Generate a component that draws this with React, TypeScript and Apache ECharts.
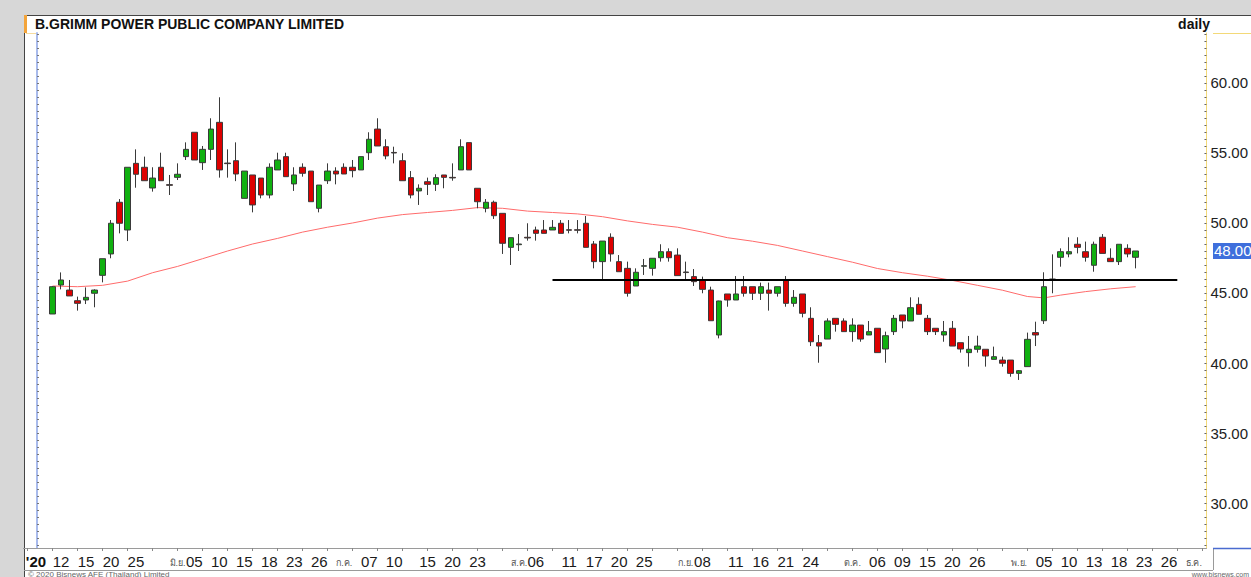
import React, { useEffect, useRef } from "react";
import * as echarts from "echarts";

// ---- DATA ----
const title = "B.GRIMM POWER PUBLIC COMPANY LIMITED";
const period = "daily";
const lastPrice = 48.0;
const supportLevel = 45.95;
const supportFrom = 60; // bar index
const supportTo = 135; // bar index

const open = [
  43.5, 45.57, 45.21, 44.45, 44.5, 44.98, 46.26, 47.79, 51.48, 49.5,
  54.26, 53.98, 52.5, 53.98, 52.74, 53.26, 54.74, 56.48, 54.31, 55.26,
  57.19, 54.28, 54.45, 51.76, 53.43, 53.21, 52.0, 53.79, 54.74, 52.79,
  53.98, 53.71, 51.05, 53.02, 53.71, 53.98, 53.98, 53.79, 55.02, 56.71,
  55.45, 55.04, 54.45, 53.24, 52.29, 52.95, 52.76, 53.43, 53.26, 53.79,
  55.74, 52.48, 51.05, 51.48, 50.69, 48.26, 48.45, 48.98, 49.5, 49.5,
  49.5, 49.98, 49.52, 49.52, 49.98, 48.5, 47.24, 48.98, 47.24, 46.76,
  45.5, 46.91, 46.76, 47.52, 47.95, 47.71, 46.5, 46.17, 45.93, 45.21,
  42.0, 44.93, 44.5, 45.45, 45.45, 44.98, 45.21, 44.98, 45.93, 44.26,
  44.93, 43.19, 41.45, 41.71, 43.19, 43.0, 42.24, 42.71, 42.0, 42.48,
  41.0, 42.24, 43.43, 43.0, 44.19, 43.19, 42.48, 42.0, 42.48, 41.45,
  40.74, 40.98, 40.98, 40.26, 40.21, 40.21, 39.26, 39.74, 42.17, 43.02,
  45.96, 47.55, 47.79, 48.48, 47.95, 46.98, 48.98, 47.48, 47.24, 48.19,
  47.55,
];
const high = [
  45.5, 46.47, 45.93, 44.74, 45.4, 45.26, 47.45, 50.21, 51.71, 53.98,
  55.26, 54.74, 53.98, 55.02, 53.43, 54.26, 55.76, 56.48, 55.5, 57.48,
  58.98, 55.26, 55.76, 53.71, 53.43, 53.21, 54.26, 55.02, 55.02, 53.98,
  54.26, 53.71, 52.71, 54.26, 53.98, 54.26, 54.5, 54.74, 56.48, 57.48,
  55.98, 55.45, 54.98, 53.71, 52.76, 53.24, 53.48, 53.43, 54.26, 55.98,
  55.74, 52.48, 51.71, 51.6, 50.69, 48.95, 49.21, 49.98, 49.74, 50.21,
  50.21, 50.21, 50.21, 50.21, 50.5, 48.71, 48.71, 49.26, 47.71, 47.24,
  46.76, 47.43, 47.48, 48.48, 48.19, 48.19, 47.24, 46.71, 46.17, 45.45,
  44.45, 44.93, 46.21, 46.21, 45.45, 45.74, 45.74, 45.45, 46.21, 45.21,
  44.93, 43.98, 42.0, 43.19, 43.19, 43.19, 43.19, 42.71, 43.0, 42.48,
  42.24, 43.43, 43.43, 44.69, 44.69, 43.43, 42.48, 43.0, 43.0, 41.45,
  41.93, 41.95, 40.98, 41.17, 40.45, 40.21, 39.5, 42.17, 42.95, 46.48,
  47.76, 48.19, 48.98, 48.98, 48.67, 48.67, 49.21, 48.19, 48.48, 48.48,
  48.0,
];
const low = [
  43.5, 45.26, 44.79, 43.74, 44.21, 43.98, 45.76, 47.48, 49.26, 48.71,
  52.52, 53.02, 52.24, 53.02, 52.0, 53.07, 54.5, 54.5, 53.79, 54.5,
  53.24, 53.24, 52.99, 51.76, 50.76, 51.76, 51.76, 53.79, 53.31, 52.29,
  53.31, 51.52, 50.76, 52.79, 52.76, 53.5, 53.26, 53.79, 54.5, 55.5,
  54.55, 54.26, 53.02, 51.76, 51.29, 52.0, 52.29, 52.48, 53.02, 53.79,
  53.79, 51.05, 50.76, 50.29, 47.79, 47.0, 48.0, 48.74, 48.74, 49.26,
  49.5, 49.26, 49.26, 49.26, 48.26, 46.76, 46.0, 47.24, 46.52, 44.74,
  45.5, 46.29, 46.24, 47.24, 47.24, 46.24, 46.0, 45.5, 44.98, 43.02,
  41.76, 44.02, 44.5, 44.74, 44.5, 44.5, 43.74, 44.74, 44.02, 44.02,
  43.26, 41.21, 40.02, 41.71, 42.24, 42.24, 41.52, 41.52, 42.0, 40.74,
  40.02, 42.0, 42.48, 43.0, 43.48, 42.0, 42.0, 41.52, 41.21, 40.74,
  39.74, 40.74, 39.74, 40.26, 39.74, 39.02, 38.79, 39.74, 41.21, 42.79,
  44.98, 46.88, 47.55, 47.83, 47.24, 46.52, 47.83, 47.24, 47.0, 47.55,
  46.76,
];
const close = [
  45.45, 45.93, 44.79, 44.26, 44.69, 45.21, 47.45, 49.98, 49.98, 53.98,
  53.48, 53.02, 53.21, 53.02, 52.69, 53.48, 55.26, 54.5, 55.26, 56.71,
  53.79, 54.24, 53.5, 53.71, 51.29, 52.0, 53.98, 54.5, 53.31, 53.43,
  53.55, 51.52, 52.71, 53.71, 53.5, 53.5, 53.74, 54.74, 55.98, 55.5,
  54.79, 55.0, 53.02, 52.0, 52.48, 52.76, 53.24, 53.26, 53.22, 55.45,
  53.79, 51.52, 51.48, 50.52, 48.55, 48.95, 48.5, 48.93, 49.26, 49.26,
  49.69, 49.26, 49.48, 49.48, 48.26, 47.24, 48.71, 47.79, 46.52, 44.98,
  46.48, 46.95, 47.48, 47.95, 47.52, 46.24, 46.46, 45.81, 45.26, 43.02,
  44.43, 44.5, 44.93, 44.98, 44.98, 45.45, 44.98, 45.45, 44.26, 44.69,
  43.55, 41.52, 41.21, 43.0, 42.76, 42.24, 42.71, 41.71, 42.24, 40.74,
  41.95, 43.19, 43.0, 43.95, 43.48, 42.24, 42.24, 42.24, 41.21, 41.0,
  40.98, 41.21, 40.5, 40.45, 39.98, 39.26, 39.45, 41.69, 42.0, 45.45,
  46.0, 47.95, 47.95, 48.26, 47.55, 48.48, 47.83, 47.24, 48.48, 47.79,
  48.0,
];

// moving-average line, read at sample bars
const maBars = [
  0, 3, 6, 9, 12, 15, 18, 21, 24, 27, 30, 33, 36, 39, 42, 45, 48, 51, 54, 57,
  60, 63, 66, 69, 72, 75, 78, 81, 84, 87, 90, 93, 96, 99, 102, 105, 108, 111,
  114, 117, 119, 121, 124, 127, 130,
];
const maValues = [
  45.5, 45.45, 45.55, 45.85, 46.45, 46.9, 47.45, 48.0, 48.5, 48.9, 49.35,
  49.7, 50.0, 50.35, 50.6, 50.75, 50.9, 51.1, 51.05, 50.85, 50.75, 50.65,
  50.45, 50.15, 49.9, 49.7, 49.35, 48.95, 48.7, 48.4, 48.0, 47.6, 47.2,
  46.75, 46.45, 46.2, 45.9, 45.55, 45.2, 44.75, 44.65, 44.85, 45.1, 45.3,
  45.45,
];

// x tick labels: [bar index, text]
const xTickLabels: [number, string][] = [
  [-2, "'20"], [1, "12"], [4, "15"], [7, "20"], [10, "25"],
  [15, "มิ.ย."], [17, "05"], [20, "10"], [23, "15"], [26, "18"], [29, "23"], [32, "26"],
  [35, "ก.ค."], [38, "07"], [41, "10"], [45, "15"], [48, "20"], [51, "23"],
  [56, "ส.ค."], [58, "06"], [62, "11"], [65, "17"], [68, "20"], [71, "25"],
  [76, "ก.ย."], [78, "08"], [82, "11"], [85, "16"], [88, "21"], [91, "24"],
  [96, "ต.ค."], [99, "06"], [102, "09"], [105, "15"], [108, "20"], [111, "26"],
  [116, "พ.ย."], [119, "05"], [122, "10"], [125, "13"], [128, "18"], [131, "23"], [134, "26"],
  [137, "ธ.ค."],
];
const yLabels = [30, 35, 40, 45, 50, 55, 60];
const monthLabels = ["มิ.ย.", "ก.ค.", "ส.ค.", "ก.ย.", "ต.ค.", "พ.ย.", "ธ.ค."];

const FIRST_SLOT = -3;
const LAST_SLOT = 138;
const Y_MIN = 26.786;
const Y_MAX = 63.571;

const FONT = "'Liberation Sans', Arial, sans-serif";

export default function App() {
  const ref = useRef<HTMLDivElement>(null);

  useEffect(() => {
    if (!ref.current) return;
    const chart = echarts.init(ref.current, undefined, { renderer: "svg" });

    const slots: string[] = [];
    for (let i = FIRST_SLOT; i <= LAST_SLOT; i++) slots.push("b" + i);
    const labelMap = new Map<string, string>();
    xTickLabels.forEach(([i, t]) => labelMap.set("b" + i, t));

    const candleData: any[] = slots.map(() => ["-", "-", "-", "-"]);
    open.forEach((o, i) => {
      candleData[i - FIRST_SLOT] = [o, close[i], low[i], high[i]];
    });
    const maData: any[] = slots.map(() => null);
    maBars.forEach((b, k) => {
      maData[b - FIRST_SLOT] = maValues[k];
    });

    const minorTicks: number[] = [];
    for (let v = 27; v <= 63.5; v += 0.5) minorTicks.push(v);

    chart.setOption({
      animation: false,
      backgroundColor: "#ffffff",
      grid: { left: 23.5, right: 38.1, top: 33, bottom: 29, containLabel: false },
      xAxis: {
        type: "category",
        data: slots,
        boundaryGap: true,
        axisLine: { show: true, lineStyle: { color: "#9a9a9a", width: 1 } },
        axisTick: {
          show: true,
          alignWithLabel: true,
          interval: (i: number) => i % 3 === 0,
          length: 3,
          lineStyle: { color: "#888" },
        },
        axisLabel: {
          interval: 0,
          margin: 6,
          fontFamily: FONT,
          fontSize: 15,
          color: "#1a1a1a",
          formatter: (v: string) => {
            const t = labelMap.get(v);
            if (!t) return "";
            if (t === "'20") return "{y|" + t + "}";
            if (monthLabels.includes(t)) return "{m|" + t + "}";
            return t;
          },
          rich: {
            y: { fontFamily: FONT, fontSize: 15, fontWeight: "bold", color: "#111" },
            m: { fontFamily: FONT, fontSize: 9, color: "#555", padding: [4, 0, 0, 0] },
          },
        },
        splitLine: { show: false },
      },
      yAxis: [
        {
          type: "value",
          position: "right",
          min: Y_MIN,
          max: Y_MAX,
          axisLine: { show: true, lineStyle: { color: "#f3d978", width: 1 } },
          axisTick: {
            show: true,
            inside: true,
            length: 2,
            customValues: minorTicks,
            lineStyle: { color: "#666" },
          },
          axisLabel: {
            customValues: yLabels,
            formatter: (v: number) => v.toFixed(2),
            fontFamily: FONT,
            fontSize: 15,
            color: "#222",
            margin: 4,
          },
          splitLine: { show: false },
        },
        {
          type: "value",
          position: "left",
          offset: -13.5,
          min: Y_MIN,
          max: Y_MAX,
          axisLine: { show: true, lineStyle: { color: "#a9bbec", width: 2 } },
          axisTick: {
            show: true,
            inside: true,
            length: 2,
            customValues: minorTicks,
            lineStyle: { color: "#777" },
          },
          axisLabel: { show: false },
          splitLine: { show: false },
        },
      ],
      series: [
        {
          type: "line",
          data: maData,
          connectNulls: true,
          showSymbol: false,
          symbol: "none",
          lineStyle: { color: "#ff6b6b", width: 1 },
          z: 2,
        },
        {
          type: "candlestick",
          data: candleData,
          barWidth: 6,
          itemStyle: {
            color: "#10b010",
            color0: "#dd0000",
            borderColor: "#3a3a3a",
            borderColor0: "#3a3a3a",
            borderWidth: 1,
          },
          z: 3,
          markLine: {
            symbol: "none",
            silent: true,
            animation: false,
            data: [
              [
                { coord: ["b" + supportFrom, supportLevel], lineStyle: { color: "#000", width: 2, type: "solid" }, label: { show: false } },
                { coord: ["b" + supportTo, supportLevel] },
              ],
            ],
          },
        },
      ],
      graphic: [
        { id: "bgTop", type: "rect", z: -10, shape: { x: 0, y: 0, width: 1251, height: 15 }, style: { fill: "#d7d7d7" } },
        { id: "bgLeft", type: "rect", z: -10, shape: { x: 0, y: 0, width: 24, height: 577 }, style: { fill: "#d7d7d7" } },
        { id: "frameTop", type: "line", shape: { x1: 24, y1: 15.5, x2: 1251, y2: 15.5 }, style: { stroke: "#444", lineWidth: 1 } },
        { id: "frameLeft", type: "line", shape: { x1: 24.5, y1: 15, x2: 24.5, y2: 577 }, style: { stroke: "#444", lineWidth: 1 } },
        { id: "orange", type: "rect", shape: { x: 24, y: 15, width: 3, height: 18 }, style: { fill: "#f3a43a" } },
        { id: "topL", type: "line", shape: { x1: 26, y1: 33.5, x2: 37, y2: 33.5 }, style: { stroke: "#f6dca0", lineWidth: 1 } },
        { id: "topR", type: "line", shape: { x1: 1213, y1: 33.5, x2: 1251, y2: 33.5 }, style: { stroke: "#f3d978", lineWidth: 1 } },
        {
          id: "title",
          type: "text",
          x: 35,
          y: 24,
          style: { text: title, font: "bold 14px " + FONT, fill: "#111", textVerticalAlign: "middle" },
        },
        {
          id: "period",
          type: "text",
          x: 1210,
          y: 24,
          style: { text: period, font: "bold 14px " + FONT, fill: "#111", textAlign: "right", textVerticalAlign: "middle" },
        },
        { id: "bandBottom", type: "line", shape: { x1: 24, y1: 570.5, x2: 1213, y2: 570.5 }, style: { stroke: "#9a9a9a", lineWidth: 1 } },
        { id: "bandSep", type: "line", shape: { x1: 1213.5, y1: 548, x2: 1213.5, y2: 570 }, style: { stroke: "#9a9a9a", lineWidth: 1 } },
        { id: "blueBase", type: "line", shape: { x1: 1213, y1: 548.5, x2: 1251, y2: 548.5 }, style: { stroke: "#4a6bd0", lineWidth: 1.5 } },
        {
          id: "copy",
          type: "text",
          x: 28,
          y: 574,
          style: { text: "© 2020 Bisnews AFE (Thailand) Limited", font: "8px " + FONT, fill: "#666", textVerticalAlign: "middle" },
        },
        {
          id: "web",
          type: "text",
          x: 1249,
          y: 574,
          style: { text: "www.bisnews.com", font: "7px " + FONT, fill: "#666", textAlign: "right", textVerticalAlign: "middle" },
        },
      ],
    });

    // last-price tag on the right axis, placed through the axis scale
    const py = chart.convertToPixel({ yAxisIndex: 0 }, lastPrice) as number;
    chart.setOption({
      graphic: [
        {
          id: "priceBox",
          type: "rect",
          z: 20,
          shape: { x: 1213, y: py - 8, width: 38, height: 16 },
          style: { fill: "#3f6fdc" },
        },
        {
          id: "priceText",
          type: "text",
          z: 21,
          x: 1214,
          y: py,
          style: { text: lastPrice.toFixed(2), font: "15px " + FONT, fill: "#ffffff", textVerticalAlign: "middle" },
        },
      ],
    });

    return () => chart.dispose();
  }, []);

  return (
    <div
      ref={ref}
      style={{ position: "absolute", left: 0, top: 0, width: 1251, height: 577, background: "#fff" }}
    />
  );
}
